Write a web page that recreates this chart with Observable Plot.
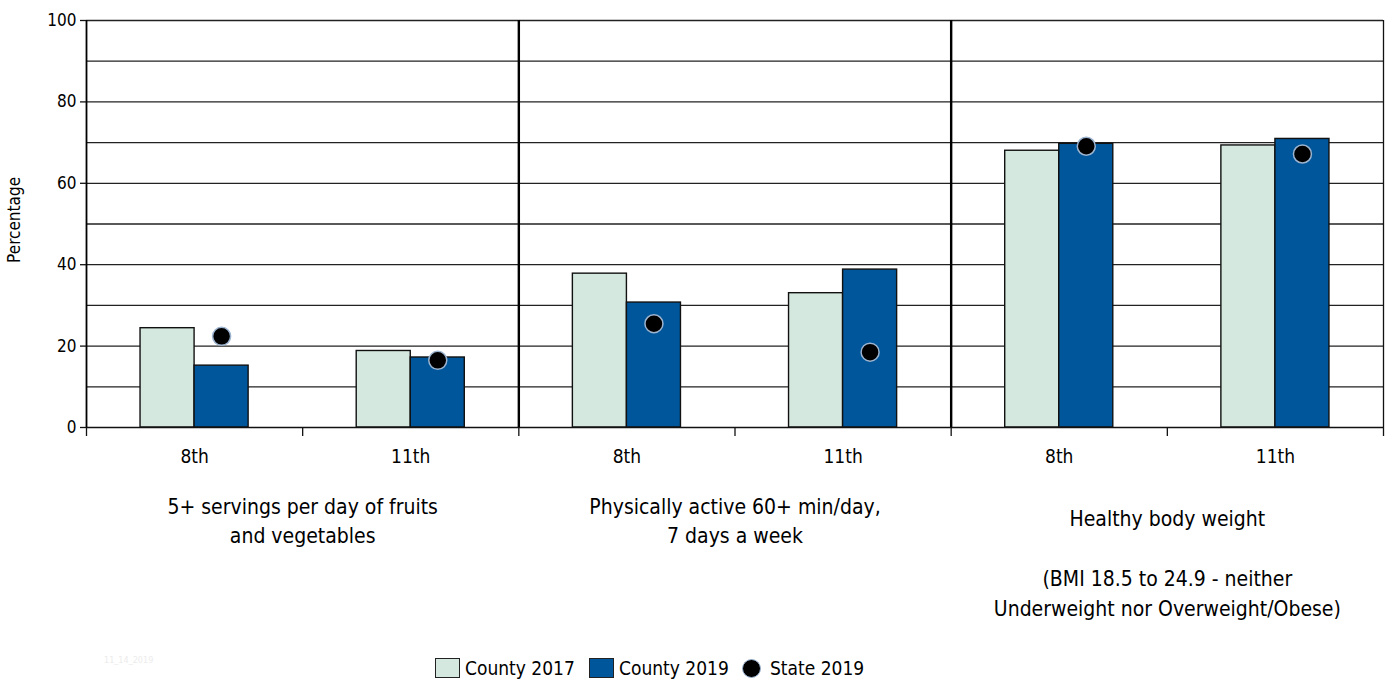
<!DOCTYPE html>
<html><head><meta charset="utf-8">
<script src="https://cdn.jsdelivr.net/npm/d3@7"></script>
<script src="https://cdn.jsdelivr.net/npm/@observablehq/plot@0.6"></script>
<style>
body{margin:0;background:#fff;font-family:"Liberation Sans Narrow","DejaVu Sans Condensed","Roboto",sans-serif;}
#wrap{position:relative;width:1390px;height:692px;overflow:hidden}
#legend{position:absolute;top:655px;left:0;width:1390px;height:26px;font-size:19px;color:#000;white-space:nowrap}
#legend .item{position:absolute;top:0;height:26px;display:flex;align-items:center}
#legend .sw{display:inline-block;width:23px;height:18px;border:1.5px solid #222;margin-right:5px}
#legend .dot{display:inline-block;width:17px;height:17px;border-radius:50%;background:#000;border:1px solid #9cb4d0;margin-right:9px}
#stamp{position:absolute;left:104px;top:655px;font-size:9px;color:#ececec}
</style></head>
<body>
<div id="wrap">
<div id="chart"></div>
<div id="stamp">11_14_2019</div>
<div id="legend"></div>
</div>
<script>
const categories = [
  "5+ servings per day of fruits\nand vegetables",
  "Physically active 60+ min/day,\n7 days a week",
  "Healthy body weight\n\n(BMI 18.5 to 24.9 - neither\nUnderweight nor Overweight/Obese)"
];
const grades = ["8th", "11th"];
const seriesNames = ["County 2017", "County 2019", "State 2019"];
const county2017 = [24.4, 18.8, 37.8, 33.0, 68.0, 69.3];
const county2019 = [15.2, 17.2, 30.7, 38.8, 69.7, 70.9];
const state2019 = [22.4, 16.5, 25.5, 18.5, 69.1, 67.2];
const yTicks = [0, 20, 40, 60, 80, 100];
const gridLines = [10, 20, 30, 40, 50, 60, 70, 80, 90, 100];
const colors = ["#d5e8df", "#00569a"];

// derived tables
const groupRows = county2017.map((_, i) => ({gi: i, panel: Math.floor(i / 2), grade: grades[i % 2]}));
const bars = [];
county2017.forEach((v, i) => bars.push({gi: i, series: seriesNames[0], k: 0, value: v}));
county2019.forEach((v, i) => bars.push({gi: i, series: seriesNames[1], k: 1, value: v}));
const dots = state2019.map((v, i) => ({gi: i, value: v}));
const panelRows = categories.map((c, p) => ({p, label: c}));
const groupEdges = d3.range(0, groupRows.length + 1);
const panelEdges = d3.range(0, groupRows.length + 1, 2);

const barW = 0.25; // fraction of a group per bar
const font = '"Liberation Sans Narrow","DejaVu Sans Condensed","Roboto",sans-serif';

const chart = Plot.plot({
  width: 1390,
  height: 640,
  marginTop: 20,
  marginBottom: 213,
  marginLeft: 86,
  marginRight: 7,
  style: {fontFamily: font, fontSize: "17px", color: "#000", background: "#fff", overflow: "visible"},
  x: {domain: [0, groupRows.length], axis: null},
  y: {domain: [0, 100], axis: null},
  color: {domain: seriesNames.slice(0, 2), range: colors},
  marks: [
    Plot.ruleY(gridLines, {stroke: "#222", strokeWidth: 1.3}),
    Plot.rectY(bars, {
      x1: d => d.gi + 0.25 + d.k * barW,
      x2: d => d.gi + 0.25 + (d.k + 1) * barW,
      y1: 0, y2: "value", fill: "series", stroke: "#111", strokeWidth: 1.4
    }),
    Plot.ruleY([0], {stroke: "#111", strokeWidth: 1.6}),
    Plot.ruleX(panelEdges.slice(1, -1), {stroke: "#000", strokeWidth: 2.4}),
    Plot.ruleX([panelEdges[0]], {stroke: "#000", strokeWidth: 1.8}),
    Plot.ruleX([panelEdges[panelEdges.length - 1]], {stroke: "#111", strokeWidth: 1.3}),
    Plot.axisX(groupEdges, {tickSize: 9, tickFormat: () => "", stroke: "#111", strokeWidth: 1.3}),
    Plot.dot(dots, {x: d => d.gi + 0.25 + 1.5 * barW, y: "value", r: 9, fill: "#000", stroke: "#9cb4d0", strokeWidth: 1.5}),
    Plot.axisY(yTicks, {tickSize: 6, tickPadding: 4, fontSize: 17, label: null, stroke: "#111", strokeWidth: 1.3}),
    Plot.text(["Percentage"], {x: 0, y: 51, dx: -72, rotate: -90, textAnchor: "middle", text: d => d, fontSize: 17}),
    Plot.text(groupRows, {x: d => d.gi + 0.5, y: 0, dy: 29, text: "grade", fontSize: 19}),
    Plot.text(panelRows.slice(0, 2), {x: d => d.p * 2 + 1, y: 0, dy: 92, text: "label", lineAnchor: "middle", lineHeight: 1.34, fontSize: 21}),
    Plot.text(panelRows.slice(2), {x: d => d.p * 2 + 1, y: 0, dy: 77, text: "label", lineAnchor: "top", lineHeight: 1.43, fontSize: 21})
  ]
});
document.getElementById("chart").appendChild(chart);

// legend
const legend = document.getElementById("legend");
const legendLeft = [435, 589, 742];
seriesNames.forEach((name, i) => {
  const item = document.createElement("span");
  item.className = "item";
  item.style.left = legendLeft[i] + "px";
  const sw = document.createElement("span");
  if (i < 2) { sw.className = "sw"; sw.style.background = colors[i]; }
  else { sw.className = "dot"; }
  const t = document.createElement("span");
  t.textContent = name;
  item.appendChild(sw); item.appendChild(t);
  legend.appendChild(item);
});
</script>
</body></html>
